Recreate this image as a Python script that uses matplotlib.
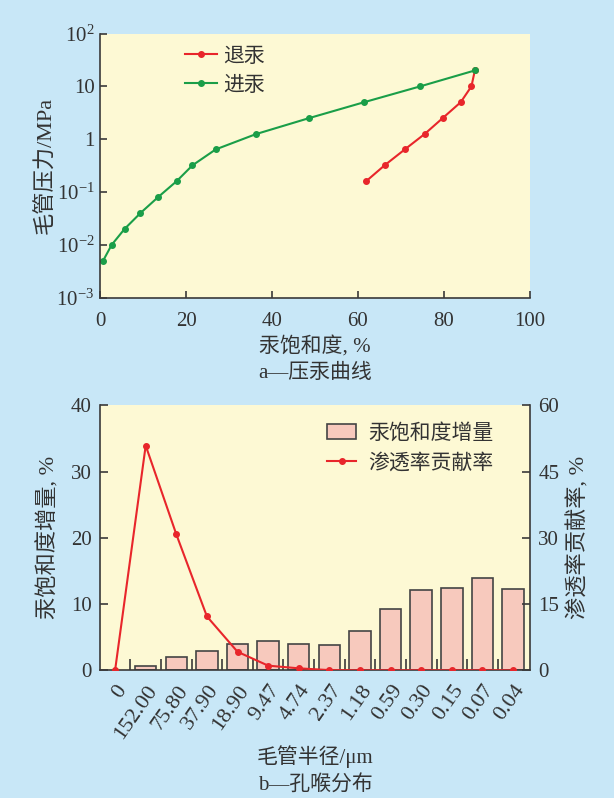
import numpy as np
import matplotlib
matplotlib.use("Agg")
import matplotlib.pyplot as plt
from matplotlib.ticker import FixedLocator, NullLocator

plt.rcParams['font.family'] = ['Liberation Serif', 'Noto Sans CJK SC', 'DejaVu Sans']
plt.rcParams['mathtext.fontset'] = 'custom'
plt.rcParams['mathtext.rm'] = 'Liberation Serif'
plt.rcParams['mathtext.it'] = 'Liberation Serif'

# a -- mercury injection curves
sat_in = [0.7, 2.7, 5.7, 9.4, 13.5, 17.8, 21.5, 26.9, 36.3, 48.6, 61.4, 74.5, 87.2]
p_in = [0.005, 0.01, 0.02, 0.04, 0.08, 0.16, 0.32, 0.64, 1.25, 2.5, 5, 10, 20]
sat_out = [87.2, 86.4, 83.9, 79.7, 75.5, 70.9, 66.2, 61.9]
p_out = [20, 10, 5, 2.5, 1.25, 0.64, 0.32, 0.16]

# b -- pore throat distribution
radius_labels = ['0', '152.00', '75.80', '37.90', '18.90', '9.47', '4.74', '2.37',
                 '1.18', '0.59', '0.30', '0.15', '0.07', '0.04']
sat_incr = [0.7, 2.0, 2.9, 4.0, 4.4, 4.0, 3.8, 6.0, 9.2, 12.2, 12.4, 13.9, 12.3]
perm_contrib = [0, 50.9, 30.8, 12.2, 4.2, 1.06, 0.45, 0.05, 0, 0, 0, 0, 0, 0]

bg = '#c8e7f7'
plot_bg = '#fdf9d4'
txt = '#333333'
axc = '#3a3a3a'
red = '#e8262b'
green = '#1a9e48'
fs = 15

fig = plt.figure(figsize=(6.14, 7.98), dpi=100, facecolor=bg)

# ---- top chart
ax1 = fig.add_axes([0.163, 0.627, 0.70, 0.331])
ax1.set_facecolor(plot_bg)
ax1.plot(sat_out, p_out, color=red, marker='o', ms=4, lw=1.5, label='退汞')
ax1.plot(sat_in, p_in, color=green, marker='o', ms=4, lw=1.5, label='进汞')
ax1.set_yscale('log')
ax1.set_xlim(0, 100)
ax1.set_ylim(1e-3, 1e2)
ax1.yaxis.set_major_locator(FixedLocator([1e-3, 1e-2, 1e-1, 1, 10, 100]))
ax1.yaxis.set_minor_locator(NullLocator())
ax1.set_yticklabels(['$10^{-3}$', '$10^{-2}$', '$10^{-1}$', '1', '10', '$10^{2}$'])
ax1.set_xticks([0, 20, 40, 60, 80, 100])
for s in ['top', 'right']:
    ax1.spines[s].set_visible(False)
for s in ['left', 'bottom']:
    ax1.spines[s].set_color(axc)
    ax1.spines[s].set_linewidth(1.2)
ax1.tick_params(direction='in', length=5, width=1.2, color=axc,
                labelsize=fs, labelcolor=txt)
ax1.tick_params(axis='x', pad=10)
ax1.tick_params(axis='y', pad=4)
ax1.set_ylabel('毛管压力/MPa', fontsize=fs + 1, color=txt, labelpad=0)
ax1.set_xlabel('汞饱和度, %\na—压汞曲线', fontsize=fs, color=txt, labelpad=4,
               linespacing=1.5)
ax1.legend(loc='upper left', bbox_to_anchor=(0.155, 1.02), frameon=False,
           fontsize=fs, handlelength=1.5, handletextpad=0.3, labelcolor=txt,
           labelspacing=0.45)

# ---- bottom chart
ax2 = fig.add_axes([0.163, 0.16, 0.70, 0.332])
ax2.set_facecolor(plot_bg)
x = np.arange(len(radius_labels))
ax2.bar(x[1:], sat_incr, width=0.7, color='#f7c9bd', edgecolor='#444444',
        linewidth=1.2, label='汞饱和度增量', zorder=2)
ax2.set_xlim(-0.49, 13.55)
ax2.set_ylim(0, 40)
ax2.set_yticks([0, 10, 20, 30, 40])
ax2.set_xticks(x)
ax2.set_xticklabels(radius_labels, rotation=55, ha='right', va='top',
                    rotation_mode='anchor', fontsize=fs + 1)
ax2.set_xticks(x[:-1] + 0.5, minor=True)
ax2.tick_params(axis='x', which='major', length=0, pad=8)
ax2.tick_params(axis='x', which='minor', direction='in', length=8, width=1.2,
                color=axc)
ax2.tick_params(axis='y', direction='in', length=6, width=1.2, color=axc, pad=6,
                labelsize=fs)
ax2.tick_params(labelcolor=txt)
for s in ['top', 'right']:
    ax2.spines[s].set_visible(False)
for s in ['left', 'bottom']:
    ax2.spines[s].set_color(axc)
    ax2.spines[s].set_linewidth(1.2)
ax2.set_ylabel('汞饱和度增量, %', fontsize=fs + 1, color=txt, labelpad=8)
ax2.set_xlabel('毛管半径/μm\nb—孔喉分布', fontsize=fs, color=txt, labelpad=2,
               linespacing=1.5)

ax3 = ax2.twinx()
ax3.plot(x, perm_contrib, color=red, marker='o', ms=4, lw=1.5, label='渗透率贡献率',
         zorder=3)
ax3.set_ylim(0, 60)
ax3.set_yticks([0, 15, 30, 45, 60])
ax3.tick_params(axis='y', direction='in', length=6, width=1.2, color=axc,
                labelsize=fs, labelcolor=txt, pad=6)
for s in ['top', 'left', 'bottom']:
    ax3.spines[s].set_visible(False)
ax3.spines['right'].set_color(axc)
ax3.spines['right'].set_linewidth(1.2)
ax3.set_ylabel('渗透率贡献率, %', fontsize=fs + 1, color=txt, rotation=90, labelpad=6)

h1, l1 = ax2.get_legend_handles_labels()
h2, l2 = ax3.get_legend_handles_labels()
ax3.legend(h1 + h2, l1 + l2, loc='upper right', bbox_to_anchor=(0.96, 1.0),
           frameon=False, fontsize=fs, handlelength=1.4, handletextpad=0.6,
           labelcolor=txt, labelspacing=0.45)

fig.savefig('out.png', dpi=100, facecolor=bg)
